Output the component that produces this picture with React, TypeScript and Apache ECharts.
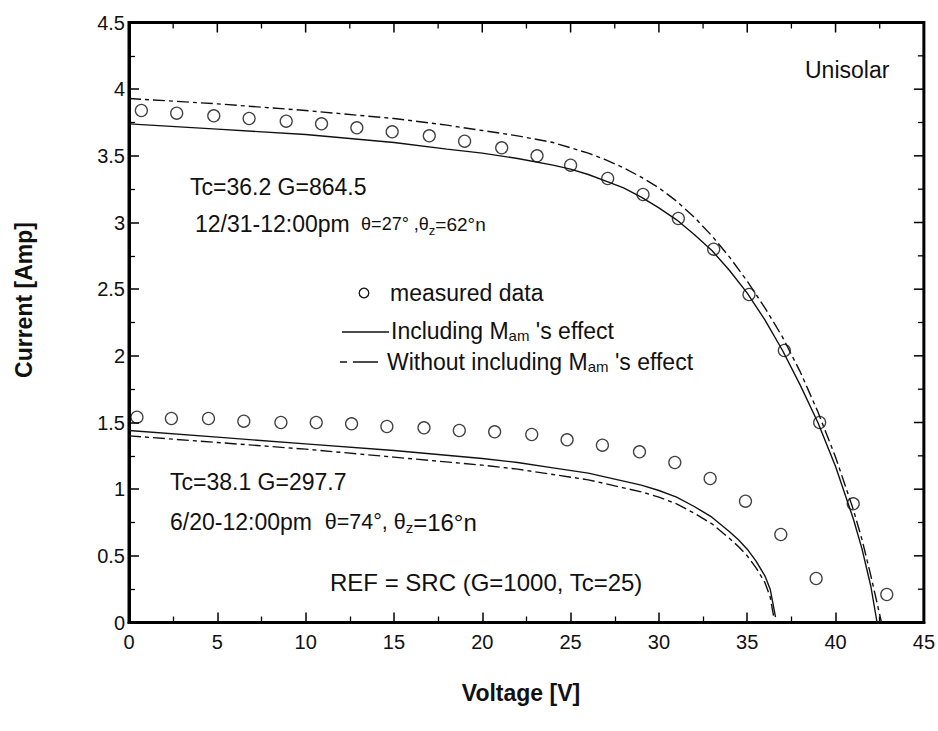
import React, { useEffect, useRef } from "react";
import * as echarts from "echarts";

// ---- data ----
const xTicks = [0, 5, 10, 15, 20, 25, 30, 35, 40, 45];
const xMinorTicks = [2.5, 7.5, 12.5, 17.5, 22.5, 27.5, 32.5, 37.5, 42.5];
const yTicks = [0, 0.5, 1, 1.5, 2, 2.5, 3, 3.5, 4, 4.5];
const yMinorTicks = [0.25, 0.75, 1.25, 1.75, 2.25, 2.75, 3.25, 3.75, 4.25];

// December (upper) measured points
const decMeasV = [0.7, 2.7, 4.8, 6.8, 8.9, 10.9, 12.9, 14.9, 17.0, 19.0, 21.1, 23.1, 25.0, 27.1, 29.1, 31.1, 33.1, 35.1, 37.1, 39.1, 41.0, 42.9];
const decMeasI = [3.84, 3.82, 3.80, 3.78, 3.76, 3.74, 3.71, 3.68, 3.65, 3.61, 3.56, 3.50, 3.43, 3.33, 3.21, 3.03, 2.80, 2.46, 2.04, 1.50, 0.89, 0.21];

// June (lower) measured points
const junMeasV = [0.45, 2.4, 4.5, 6.5, 8.6, 10.6, 12.6, 14.6, 16.7, 18.7, 20.7, 22.8, 24.8, 26.8, 28.9, 30.9, 32.9, 34.9, 36.9, 38.9];
const junMeasI = [1.54, 1.53, 1.53, 1.51, 1.50, 1.50, 1.49, 1.47, 1.46, 1.44, 1.43, 1.41, 1.37, 1.33, 1.28, 1.20, 1.08, 0.91, 0.66, 0.33];

// December model, including Mam
const decInclV = [0, 5, 10, 15, 18, 20, 22, 24, 25, 26, 27, 28, 29, 30, 31, 32, 33, 34, 35, 36, 37, 38, 39, 40, 41, 41.5, 42, 42.35];
const decInclI = [3.74, 3.70, 3.66, 3.60, 3.55, 3.52, 3.48, 3.43, 3.40, 3.36, 3.31, 3.26, 3.19, 3.11, 3.02, 2.91, 2.79, 2.64, 2.47, 2.27, 2.04, 1.78, 1.50, 1.17, 0.78, 0.55, 0.27, 0];

// December model, without Mam
const decWithoutV = [0, 5, 10, 15, 18, 20, 22, 24, 25, 26, 27, 28, 29, 30, 31, 32, 33, 34, 35, 36, 37, 38, 39, 40, 41, 41.5, 42, 42.6];
const decWithoutI = [3.93, 3.89, 3.84, 3.78, 3.73, 3.69, 3.65, 3.60, 3.56, 3.52, 3.47, 3.41, 3.34, 3.26, 3.16, 3.04, 2.90, 2.74, 2.56, 2.36, 2.14, 1.88, 1.58, 1.24, 0.85, 0.62, 0.35, 0];

// June model, including Mam
const junInclV = [0, 5, 10, 15, 20, 22, 24, 26, 27, 28, 29, 30, 31, 32, 33, 34, 34.5, 35, 35.5, 36, 36.3, 36.6];
const junInclI = [1.44, 1.39, 1.34, 1.29, 1.23, 1.20, 1.16, 1.12, 1.09, 1.06, 1.03, 0.99, 0.94, 0.87, 0.79, 0.68, 0.62, 0.55, 0.46, 0.35, 0.25, 0.04];

// June model, without Mam
const junWithoutV = [0, 5, 10, 15, 20, 22, 24, 26, 27, 28, 29, 30, 31, 32, 33, 34, 34.5, 35, 35.5, 36, 36.3, 36.5];
const junWithoutI = [1.40, 1.35, 1.30, 1.24, 1.18, 1.15, 1.11, 1.07, 1.04, 1.01, 0.98, 0.94, 0.89, 0.82, 0.74, 0.63, 0.57, 0.50, 0.41, 0.30, 0.19, 0.04];

const seriesNames = ["measured data", "Including Mam 's effect", "Without including Mam 's effect"];

const FONT = '"Liberation Sans", Arial, Helvetica, sans-serif';
const INK = "#111";

const X_MIN = 0, X_MAX = 45, Y_MIN = 0, Y_MAX = 4.5;

const zip = (xs: number[], ys: number[]) => xs.map((x, i) => [x, ys[i]]);

export default function App() {
  const ref = useRef<HTMLDivElement>(null);

  useEffect(() => {
    if (!ref.current) return;
    const chart = echarts.init(ref.current, null, { renderer: "svg" });

    const makeAxis = (position: string, min: number, max: number, interval: number, labels: any) => ({
      type: "value",
      position,
      min,
      max,
      interval,
      splitLine: { show: false },
      axisLine: { show: true, onZero: false, lineStyle: { color: "#000", width: 3 } },
      axisTick: { show: true, inside: true, length: 10, lineStyle: { color: "#000", width: 1.5 } },
      minorTick: { show: true, splitNumber: 2, length: 6, lineStyle: { color: "#000", width: 1.3 } },
      axisLabel: labels,
    });

    const dashed = [12, 4, 4, 4];

    const lineSeries = (name: string, xs: number[], ys: number[], dash: boolean) => ({
      name,
      type: "line",
      data: zip(xs, ys),
      showSymbol: false,
      smooth: false,
      lineStyle: dash ? { color: INK, width: 1.4, type: dashed } : { color: INK, width: 1.4 },
    });

    const scatterSeries = (xs: number[], ys: number[]) => ({
      name: seriesNames[0],
      type: "scatter",
      data: zip(xs, ys),
      symbol: "circle",
      symbolSize: 12,
      itemStyle: { color: "rgba(0,0,0,0)", borderColor: INK, borderWidth: 1.3 },
    });

    const thetaRich = (t: number, z: number, n: number) => ({
      t: { fontSize: t, fontFamily: FONT, fill: INK, lineHeight: 26 },
      z: { fontSize: z, fontFamily: FONT, fill: INK, lineHeight: z, verticalAlign: "bottom" },
      n: { fontSize: n, fontFamily: FONT, fill: INK, lineHeight: 26 },
    });
    const subRich = () => ({
      s: { fontSize: 15, fontFamily: FONT, fill: INK, lineHeight: 15, verticalAlign: "bottom" },
    });

    const baseGraphic: any[] = [
      {
        type: "text",
        x: 24,
        y: 300,
        rotation: Math.PI / 2,
        style: { text: "Current [Amp]", fontSize: 23, fontWeight: "bold", fontFamily: FONT, fill: INK, align: "center", verticalAlign: "middle" },
      },
      {
        type: "text",
        x: 521,
        y: 693,
        style: { text: "Voltage [V]", fontSize: 23, fontWeight: "bold", fontFamily: FONT, fill: INK, align: "center", verticalAlign: "middle" },
      },
      {
        type: "text",
        x: 805,
        y: 70,
        style: { text: "Unisolar", fontSize: 23, fontFamily: FONT, fill: INK, verticalAlign: "middle" },
      },
      {
        type: "text",
        x: 190,
        y: 187,
        style: { text: "Tc=36.2 G=864.5", fontSize: 23, fontFamily: FONT, fill: INK, verticalAlign: "middle" },
      },
      {
        type: "text",
        x: 195,
        y: 224,
        style: {
          text: "12/31-12:00pm {t| θ=27° ,θ}{z|z}{n|=62°n}",
          fontSize: 23,
          fontFamily: FONT,
          fill: INK,
          verticalAlign: "middle",
          rich: thetaRich(18, 13, 19),
        },
      },
      {
        type: "text",
        x: 170,
        y: 482,
        style: { text: "Tc=38.1 G=297.7", fontSize: 23, fontFamily: FONT, fill: INK, verticalAlign: "middle" },
      },
      {
        type: "text",
        x: 170,
        y: 522,
        style: {
          text: "6/20-12:00pm  {t|θ=74°, θ}{z|z}{n|=16°n}",
          fontSize: 23,
          fontFamily: FONT,
          fill: INK,
          verticalAlign: "middle",
          rich: thetaRich(21.5, 15, 24),
        },
      },
      {
        type: "text",
        x: 330,
        y: 582,
        style: { text: "REF = SRC (G=1000, Tc=25)", fontSize: 24, fontFamily: FONT, fill: INK, verticalAlign: "middle" },
      },
      {
        type: "circle",
        shape: { cx: 364, cy: 293, r: 4.8 },
        style: { fill: "none", stroke: INK, lineWidth: 1.3 },
      },
      {
        type: "text",
        x: 390,
        y: 293,
        style: { text: seriesNames[0], fontSize: 23, fontFamily: FONT, fill: INK, verticalAlign: "middle" },
      },
      {
        type: "line",
        shape: { x1: 342, y1: 332, x2: 389, y2: 332 },
        style: { stroke: INK, lineWidth: 1.4 },
      },
      {
        type: "text",
        x: 391,
        y: 331,
        style: { text: "Including M{s|am} 's effect", fontSize: 23, fontFamily: FONT, fill: INK, verticalAlign: "middle", rich: subRich() },
      },
      {
        type: "line",
        shape: { x1: 340, y1: 362, x2: 378, y2: 362 },
        style: { stroke: INK, lineWidth: 1.4, lineDash: [7, 6, 40, 0] },
      },
      {
        type: "text",
        x: 387,
        y: 362,
        style: { text: "Without including M{s|am} 's effect", fontSize: 23, fontFamily: FONT, fill: INK, verticalAlign: "middle", rich: subRich() },
      },
    ];

    const option: any = {
      animation: false,
      backgroundColor: "#fff",
      grid: { left: 129, right: 13, top: 22.5, bottom: 108.5 },
      xAxis: [
        makeAxis("bottom", X_MIN, X_MAX, 5, {
          show: true,
          margin: 9,
          fontSize: 20,
          fontFamily: FONT,
          color: INK,
          formatter: (v: number) => (xTicks.includes(v) ? String(v) : ""),
        }),
      ],
      yAxis: [
        makeAxis("left", Y_MIN, Y_MAX, 0.5, {
          show: true,
          margin: 4,
          fontSize: 20,
          fontFamily: FONT,
          color: INK,
          formatter: (v: number) => (yTicks.includes(v) ? String(v) : ""),
        }),
      ],
      series: [
        lineSeries(seriesNames[1], decInclV, decInclI, false),
        lineSeries(seriesNames[2], decWithoutV, decWithoutI, true),
        lineSeries(seriesNames[1], junInclV, junInclI, false),
        lineSeries(seriesNames[2], junWithoutV, junWithoutI, true),
        scatterSeries(decMeasV, decMeasI),
        scatterSeries(junMeasV, junMeasI),
      ],
      graphic: baseGraphic,
    };

    chart.setOption(option);

    // frame (top / right edges) and mirrored ticks, placed through the chart's own scales
    const px = (v: number[]) => chart.convertToPixel({ gridIndex: 0 }, v) as number[];
    const tl = px([X_MIN, Y_MAX]);
    const br = px([X_MAX, Y_MIN]);
    const frame: any[] = [];
    if (tl && br && isFinite(tl[0]) && isFinite(br[0])) {
      frame.push({
        type: "rect",
        shape: { x: tl[0], y: tl[1], width: br[0] - tl[0], height: br[1] - tl[1] },
        style: { fill: "none", stroke: "#000", lineWidth: 3 },
        silent: true,
      });
      const tick = (v: number, len: number, top: boolean, w: number) => {
        const p = top ? px([v, Y_MAX]) : px([X_MAX, v]);
        return {
          type: "line",
          silent: true,
          shape: top
            ? { x1: p[0], y1: p[1], x2: p[0], y2: p[1] + len }
            : { x1: p[0], y1: p[1], x2: p[0] - len, y2: p[1] },
          style: { stroke: "#000", lineWidth: w },
        };
      };
      xTicks.forEach((v) => frame.push(tick(v, 10, true, 1.5)));
      xMinorTicks.forEach((v) => frame.push(tick(v, 6, true, 1.3)));
      yTicks.forEach((v) => frame.push(tick(v, 10, false, 1.5)));
      yMinorTicks.forEach((v) => frame.push(tick(v, 6, false, 1.3)));
    }
    chart.setOption({ graphic: [...baseGraphic, ...frame] });

    return () => chart.dispose();
  }, []);

  return <div ref={ref} style={{ width: 938, height: 731, position: "absolute", left: 0, top: 0 }} />;
}
